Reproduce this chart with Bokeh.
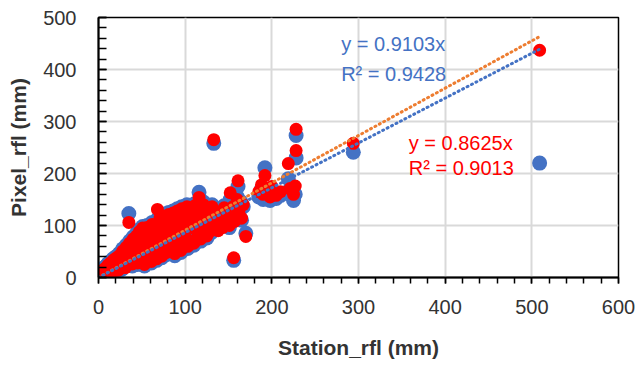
from bokeh.plotting import figure
from bokeh.models import FixedTicker, Label, ColumnDataSource
from bokeh.embed import file_html
from bokeh.resources import INLINE

# Station rainfall (x) and two pixel products (blue / red)
station = [0, 1, 2, 3, 4, 5, 6, 7, 8, 9, 10, 11, 12, 13, 14, 15, 16, 17, 18, 19, 20,
           21, 22, 23, 24, 25, 26, 27, 28, 29, 30, 31, 32, 33, 34, 35, 36, 36, 37, 38, 39, 40,
           41, 42, 43, 44, 45, 46, 47, 48, 49, 50, 51, 52, 53, 54, 55, 56, 57, 58, 59, 60,
           61, 62, 63, 64, 65, 66, 67, 68, 69, 70, 71, 72, 73, 74, 75, 76, 77, 78, 79, 80,
           81, 82, 83, 84, 85, 86, 87, 88, 89, 90, 91, 92, 93, 94, 95, 96, 97, 98, 99, 100,
           102, 103, 104, 106, 107, 108, 110, 111, 112, 114, 115, 116, 117, 118, 120, 121, 122, 124, 125, 126,
           128, 129, 130, 131, 133,
           135, 136, 138, 140, 141, 143, 145, 146, 148, 150, 151, 152, 153, 155, 156, 157, 158, 160, 161, 162,
           164, 165, 167, 170,
           185, 188, 190, 192, 195, 198, 200, 205, 210, 219, 221, 225, 227, 228, 228, 294, 509]
pixel_blue = [2, 6, 11, 3, 9, 16, 5, 13, 21, 8, 17, 27, 10, 19, 31, 12, 24, 36, 14, 28, 40,
              18, 33, 12, 46, 24, 38, 16, 55, 30, 44, 22, 62, 35, 50, 123, 27, 70, 41, 57, 22, 78,
              48, 33, 66, 85, 25, 55, 92, 40, 72, 30, 98, 62, 22, 80, 47, 100, 36, 70, 88, 52,
              28, 106, 76, 42, 95, 60, 33, 112, 84, 48, 118, 66, 38, 100, 56, 122, 78, 44, 108, 62,
              125, 88, 50, 115, 70, 128, 94, 42, 104, 78, 132, 58, 112, 86, 48, 136, 98, 66, 120, 82,
              140, 56, 106, 74, 126, 92, 62, 142, 112, 84, 130, 164, 98, 70, 118, 145, 88, 108, 76, 132,
              100, 115, 86, 140, 258,
              104, 122, 94, 130, 110, 100, 138, 118, 108, 128, 96, 150, 116, 140, 33, 112, 130, 155, 175, 120,
              146, 110, 136, 85,
              155, 170, 150, 211, 160, 148, 165, 152, 158, 190, 170, 148, 160, 230, 273, 241, 220]
pixel_red = [3, 4, 9, 5, 12, 14, 7, 10, 18, 11, 20, 24, 8, 22, 28, 15, 20, 33, 12, 31, 37,
             21, 30, 14, 42, 27, 35, 19, 51, 26, 47, 19, 58, 38, 46, 106, 30, 66, 44, 53, 26, 74,
             45, 36, 62, 80, 28, 58, 88, 37, 68, 33, 95, 59, 25, 84, 44, 96, 40, 66, 92, 49,
             31, 102, 73, 46, 90, 57, 36, 131, 80, 52, 114, 63, 41, 96, 60, 118, 74, 48, 104, 66,
             121, 84, 54, 111, 74, 124, 90, 46, 108, 74, 128, 62, 108, 90, 52, 132, 94, 70, 116, 78,
             136, 60, 102, 70, 122, 96, 66, 138, 108, 88, 126, 154, 94, 74, 114, 140, 92, 104, 80, 128,
             96, 119, 90, 136, 265,
             108, 118, 90, 126, 114, 96, 134, 122, 104, 124, 100, 163, 120, 136, 38, 108, 134, 150, 186, 124,
             142, 114, 140, 79,
             165, 178, 160, 196, 170, 155, 175, 158, 165, 219, 171, 160, 176, 244, 285, 258, 437]

# trendlines (through origin) over the station range
trend_x = [0, 509]
slope_blue = 0.8625
slope_orange = 0.9103

x_ticks = [0, 100, 200, 300, 400, 500, 600]
y_ticks = [0, 100, 200, 300, 400, 500]
x_minor = list(range(0, 601, 20))
y_minor = list(range(0, 501, 20))

FONT = "Liberation Sans"
TXT = "#333333"

p = figure(width=636, height=369, output_backend="svg", toolbar_location=None,
           x_range=(0, 600), y_range=(0, 500),
           min_border_left=98, min_border_right=18, min_border_top=17, min_border_bottom=92)

p.background_fill_color = "white"
p.border_fill_color = "white"
p.outline_line_color = "black"
p.outline_line_width = 1.5

p.xgrid.ticker = FixedTicker(ticks=x_ticks)
p.ygrid.ticker = FixedTicker(ticks=y_ticks)
for g in (p.xgrid, p.ygrid):
    g.grid_line_color = "#d9d9d9"
    g.grid_line_width = 2

p.xaxis.ticker = FixedTicker(ticks=x_ticks, minor_ticks=x_minor)
p.yaxis.ticker = FixedTicker(ticks=y_ticks, minor_ticks=y_minor)

for ax in (p.xaxis, p.yaxis):
    ax.axis_line_color = "black"
    ax.axis_line_width = 2
    ax.major_tick_line_color = "black"
    ax.minor_tick_line_color = "black"
    ax.major_tick_line_width = 1.5
    ax.minor_tick_line_width = 1.5
    ax.major_label_text_font = FONT
    ax.major_label_text_font_size = "20px"
    ax.major_label_text_color = TXT
    ax.axis_label_text_font = FONT
    ax.axis_label_text_font_size = "21px"
    ax.axis_label_text_font_style = "bold"
    ax.axis_label_text_color = TXT

p.xaxis.major_tick_in = 0
p.xaxis.major_tick_out = 6
p.xaxis.minor_tick_in = 0
p.xaxis.minor_tick_out = 6
p.yaxis.major_tick_in = 8
p.yaxis.major_tick_out = 0
p.yaxis.minor_tick_in = 8
p.yaxis.minor_tick_out = 0
p.xaxis.major_label_standoff = 16
p.yaxis.major_label_standoff = 22
p.xaxis.axis_label = "Station_rfl (mm)"
p.yaxis.axis_label = "Pixel_rfl (mm)"
p.xaxis.axis_label_standoff = 19
p.yaxis.axis_label_standoff = 10

src = ColumnDataSource(dict(x=station, b=pixel_blue, r=pixel_red))
p.scatter("x", "b", source=src, size=15, fill_color="#4472C4", line_color="#4472C4", line_width=0)
p.scatter("x", "r", source=src, size=13, fill_color="#FF0000", line_color="#FF0000", line_width=0)

p.line(trend_x, [v * slope_orange for v in trend_x], line_color="#ED7D31", line_width=3,
       line_dash="1 4", line_cap="round")
p.line(trend_x, [v * slope_blue for v in trend_x], line_color="#4472C4", line_width=3,
       line_dash="1 4", line_cap="round")

p.add_layout(Label(x=280, y=471, text="y = 0.9103x", text_font=FONT, text_font_size="20px",
                   text_color="#4472C4", text_baseline="top"))
p.add_layout(Label(x=280, y=413, text="R² = 0.9428", text_font=FONT, text_font_size="20px",
                   text_color="#4472C4", text_baseline="top"))
p.add_layout(Label(x=358, y=279, text="y = 0.8625x", text_font=FONT, text_font_size="20px",
                   text_color="#FF0000", text_baseline="top"))
p.add_layout(Label(x=358, y=231, text="R² = 0.9013", text_font=FONT, text_font_size="20px",
                   text_color="#FF0000", text_baseline="top"))

open("out.html", "w").write(file_html(p, INLINE))
